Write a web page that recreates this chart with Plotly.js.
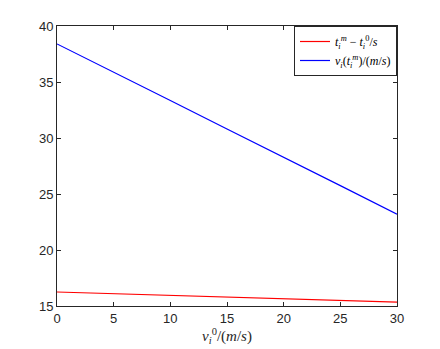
<!DOCTYPE html>
<html>
<head>
<meta charset="utf-8">
<script src="https://cdn.plot.ly/plotly-3.0.1.min.js"></script>
<style>body{margin:0;background:#fff}#plot{width:440px;height:349px}</style>
</head>
<body>
<div id="plot"></div>
<script>
// speeds v_i^0
var speeds = [0, 5, 10, 15, 20, 25, 30];
// t_i^m - t_i^0
var timeDiff = [16.25, 16.1, 15.95, 15.8, 15.65, 15.5, 15.35];
// v_i(t_i^m)
var finalSpeed = [38.4, 35.9, 33.35, 30.8, 28.3, 25.75, 23.2];

var mathFont = {family: "Liberation Serif, DejaVu Serif, serif", size: 12, color: "#000"};

var redTrace = {
  x: speeds,
  y: timeDiff,
  type: "scatter",
  mode: "lines",
  line: {color: "#ff0000", width: 1.2},
  name: "<i>t</i><sub><i>i</i></sub><sup><i>m</i></sup> − <i>t</i><sub><i>i</i></sub><sup>0</sup>/<i>s</i>"
};

var blueTrace = {
  x: speeds,
  y: finalSpeed,
  type: "scatter",
  mode: "lines",
  line: {color: "#0000ff", width: 1.2},
  name: "<i>v</i><sub><i>i</i></sub>(<i>t</i><sub><i>i</i></sub><sup><i>m</i></sup>)/(<i>m</i>/<i>s</i>)"
};

var axisStyle = {
  showgrid: false,
  zeroline: false,
  showline: true,
  mirror: "ticks",
  linecolor: "#262626",
  linewidth: 1,
  ticks: "inside",
  ticklen: 4,
  tickcolor: "#262626",
  tickfont: {family: "Liberation Sans, Arial, sans-serif", size: 13, color: "#262626"}
};

var layout = {
  width: 440,
  height: 349,
  margin: {l: 57, r: 43, t: 26, b: 43},
  paper_bgcolor: "#fff",
  plot_bgcolor: "#fff",
  showlegend: true,
  xaxis: Object.assign({}, axisStyle, {
    range: [0, 30],
    tickvals: [0, 5, 10, 15, 20, 25, 30],
    title: {text: "<i>v</i><sub><i>i</i></sub><sup>0</sup>/(<i>m</i>/<i>s</i>)", font: {family: mathFont.family, size: 15, color: "#262626"}, standoff: 2}
  }),
  yaxis: Object.assign({}, axisStyle, {
    range: [15, 40],
    tickvals: [15, 20, 25, 30, 35, 40]
  }),
  legend: {
    x: 1, xanchor: "right",
    y: 1, yanchor: "top",
    bgcolor: "#fff",
    bordercolor: "#262626",
    borderwidth: 1,
    font: mathFont,
    tracegroupgap: 0,
    itemwidth: 30
  }
};

Plotly.newPlot("plot", [redTrace, blueTrace], layout, {displayModeBar: false});
</script>
</body>
</html>
